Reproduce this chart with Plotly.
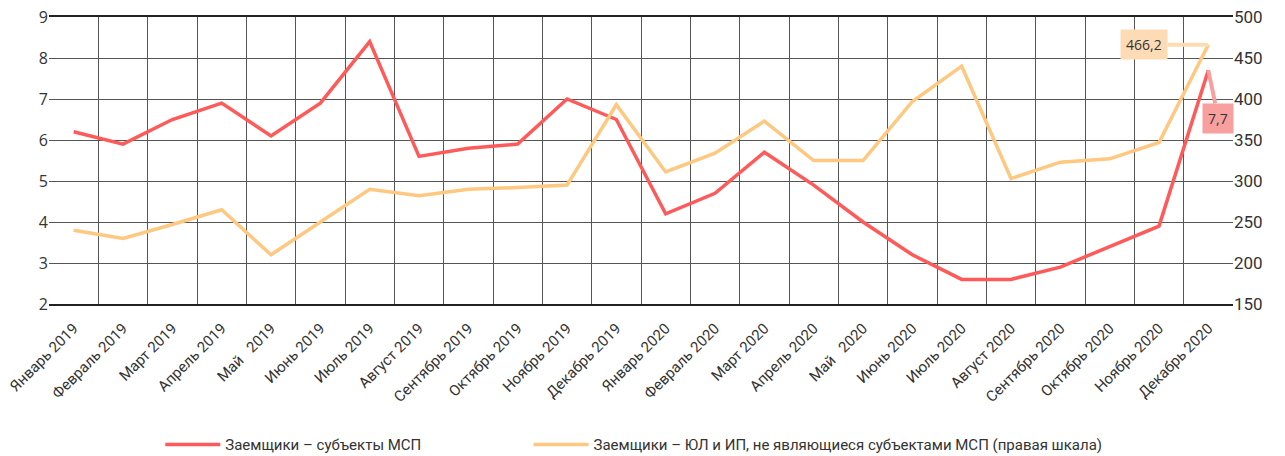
import plotly.graph_objects as go

months = ["Январь 2019", "Февраль 2019", "Март 2019", "Апрель 2019", "Май\u00a0\u00a0 2019", "Июнь 2019",
          "Июль 2019", "Август 2019", "Сентябрь 2019", "Октябрь 2019", "Ноябрь 2019", "Декабрь 2019",
          "Январь 2020", "Февраль 2020", "Март 2020", "Апрель 2020", "Май\u00a0\u00a0 2020", "Июнь 2020",
          "Июль 2020", "Август 2020", "Сентябрь 2020", "Октябрь 2020", "Ноябрь 2020", "Декабрь 2020"]

msp = [6.2, 5.9, 6.5, 6.9, 6.1, 6.9, 8.4, 5.6, 5.8, 5.9, 7.0, 6.5,
       4.2, 4.7, 5.7, 4.9, 4.0, 3.2, 2.6, 2.6, 2.9, 3.4, 3.9, 7.7]

non_msp = [240, 230, 247, 265, 210, 250, 290, 282, 290, 292, 295, 393,
           311, 334, 373, 325, 325, 397, 440, 303, 323, 327, 347, 466.2]

name_msp = "Заемщики – субъекты МСП"
name_non = "Заемщики – ЮЛ и ИП, не являющиеся субъектами МСП (правая шкала)"

RED = "#FF5A5A"
ORANGE = "#FFC880"
FONT = "Liberation Sans Narrow, Roboto, Liberation Sans, sans-serif"

fig = go.Figure()
fig.add_trace(go.Scatter(x=months, y=msp, name=name_msp, mode="lines",
                         line=dict(color=RED, width=3.5), yaxis="y", legend="legend"))
fig.add_trace(go.Scatter(x=months, y=non_msp, name=name_non, mode="lines",
                         line=dict(color=ORANGE, width=3.5), yaxis="y2", legend="legend2"))

fig.add_annotation(x=months[-1], y=non_msp[-1], yref="y2",
                   text="466,2", showarrow=True, arrowhead=0, arrowwidth=4,
                   arrowcolor="#FDDCB5", ax=-64, ay=0,
                   bgcolor="#FDDCB5", borderpad=5,
                   font=dict(family="Open Sans, sans-serif", size=14, color="#333"))
fig.add_annotation(x=months[-1], y=msp[-1], yref="y",
                   text="7,7", showarrow=True, arrowhead=0, arrowwidth=4,
                   arrowcolor="#F8A0A0", ax=10, ay=48,
                   bgcolor="#F8A0A0", borderpad=5,
                   font=dict(family="Open Sans, sans-serif", size=14, color="#333"))

legend_common = dict(orientation="h", y=-0.49, xanchor="left", yanchor="middle",
                     font=dict(family=FONT, size=15, color="#333"), itemwidth=55,
                     bgcolor="rgba(0,0,0,0)")

fig.update_layout(
    width=1285, height=456,
    margin=dict(l=49, r=52, t=17, b=152, autoexpand=False),
    paper_bgcolor="white", plot_bgcolor="white",
    showlegend=True,
    legend=dict(x=0.094, **legend_common),
    legend2=dict(x=0.405, **legend_common),
    xaxis=dict(type="category", range=[-0.5, len(months) - 0.5], tickson="boundaries",
               showgrid=True, gridcolor="#555",
               gridwidth=1, showline=True, linecolor="#222", linewidth=1.5, mirror=True,
               ticks="", tickangle=-45, automargin=False, ticklabelstandoff=8,
               tickfont=dict(family=FONT, size=15, color="#333")),
    yaxis=dict(range=[2, 9], dtick=1, showgrid=True, gridcolor="#555", gridwidth=1,
               showline=False, zeroline=False, ticks="", automargin=False,
               tickfont=dict(family="Open Sans, sans-serif", size=16, color="#333")),
    yaxis2=dict(range=[150, 500], dtick=50, overlaying="y", side="right", showgrid=False,
                zeroline=False, showline=False, ticks="", automargin=False,
                tickfont=dict(family=FONT, size=17, color="#333")),
)

fig.write_html("out.html", config={"displayModeBar": False},
               post_script="document.body.style.margin='0';document.body.style.overflow='hidden';")
